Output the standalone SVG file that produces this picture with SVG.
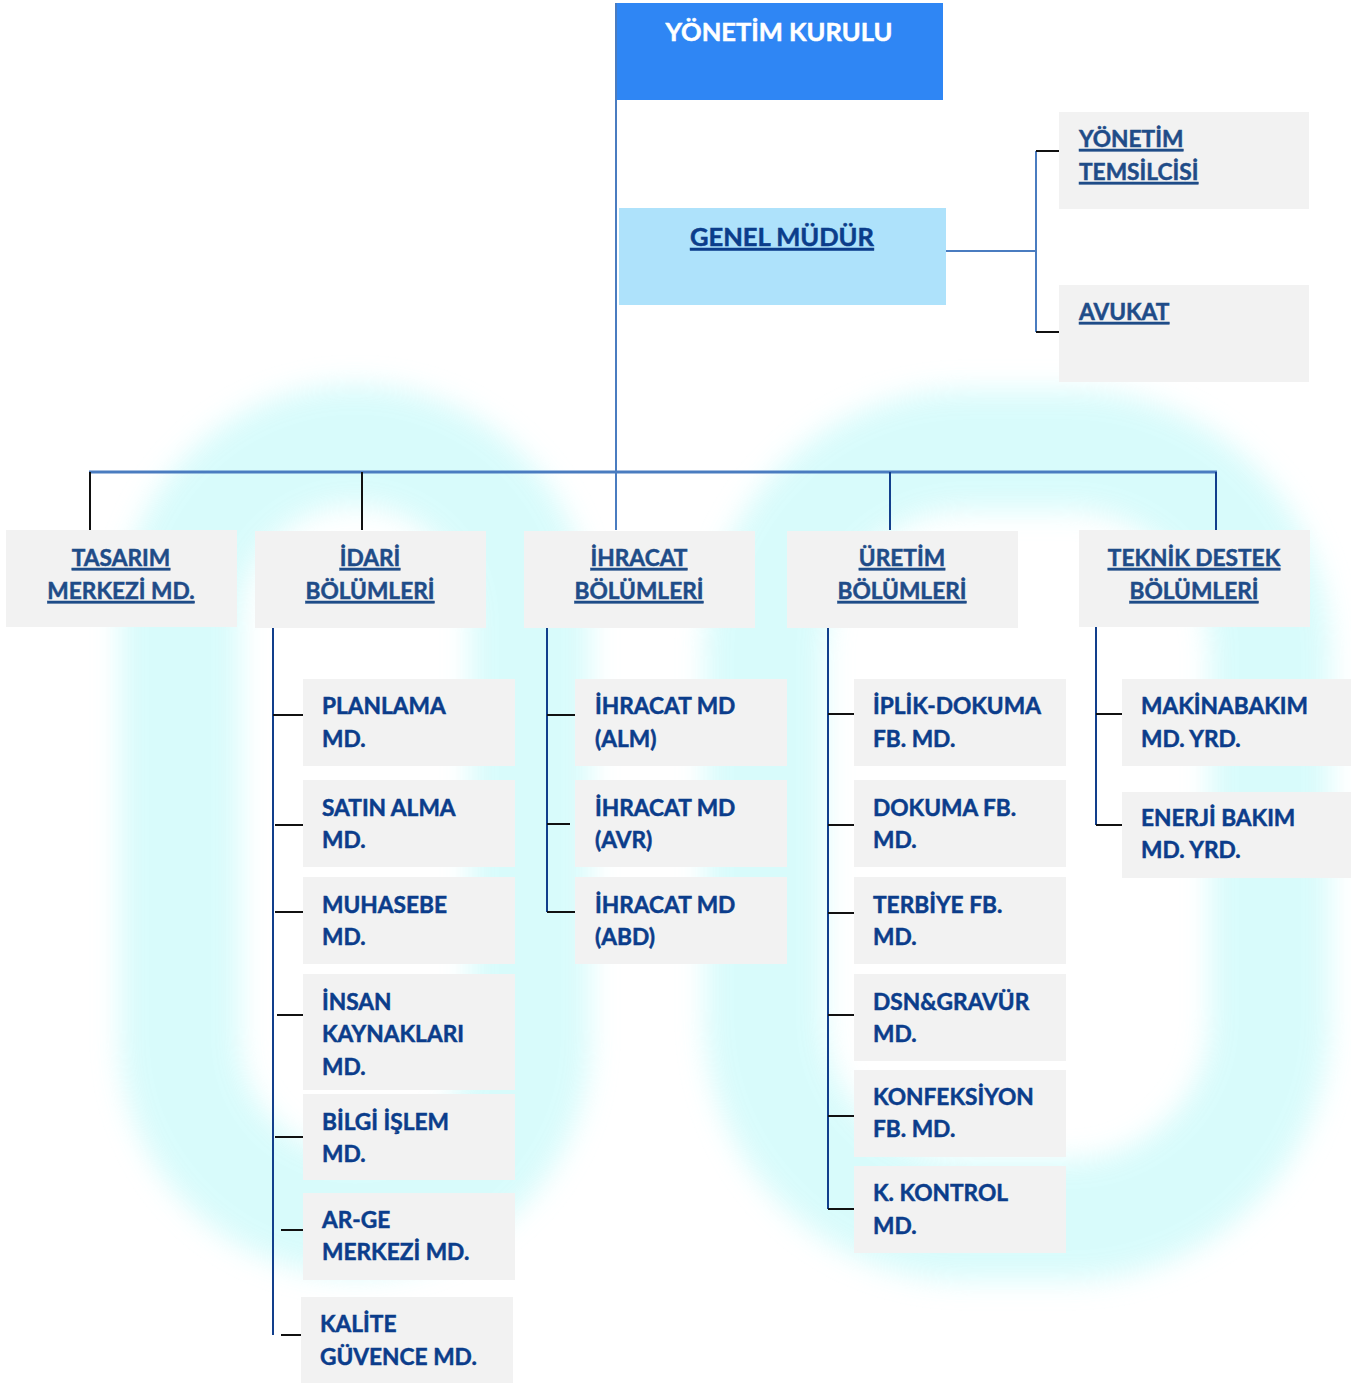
<svg xmlns="http://www.w3.org/2000/svg" width="1351" height="1383" viewBox="0 0 1351 1383">
<style>
.box{fill:#f2f2f2}
.t{font-family:Lato,"Open Sans","Liberation Sans",sans-serif;font-weight:bold;font-size:22.7px;stroke-width:0.5px}
.big{font-size:25.5px}
.l2{fill:#1f4c88;stroke:#1f4c88;text-decoration:underline}
.lf{fill:#0b3d8b;stroke:#0b3d8b}
.wh{fill:#fff;stroke:#fff}
.blue{stroke:#4a7cc0;stroke-width:2;fill:none}
.dark{stroke:#123f8c;stroke-width:2;fill:none}
.blk{stroke:#111;stroke-width:2;fill:none}
</style>
<defs>
<filter id="blur" x="-20%" y="-20%" width="140%" height="140%"><feGaussianBlur stdDeviation="14"/></filter>
</defs>
<rect width="1351" height="1383" fill="#fff"/>
<g id="watermark" filter="url(#blur)" opacity="0.85">
<rect x="180" y="445" width="350" height="770" rx="175" fill="none" stroke="#d2fbfb" stroke-width="120"/>
<rect x="765" y="450" width="505" height="770" rx="200" fill="none" stroke="#d2fbfb" stroke-width="120"/>
</g>
<g id="connectors">
<line class="blue" x1="616" y1="3" x2="616" y2="530"/>
<line class="blue" x1="946" y1="251" x2="1036" y2="251"/>
<line class="blue" x1="1036" y1="151" x2="1036" y2="332"/>
<line class="blk" x1="1036" y1="151" x2="1059" y2="151"/>
<line class="blk" x1="1036" y1="332" x2="1059" y2="332"/>
<line stroke="#4a7cc0" stroke-width="3" x1="89" y1="472" x2="1217" y2="472"/>
<line class="blk" x1="90" y1="472" x2="90" y2="530"/>
<line class="blk" x1="362" y1="472" x2="362" y2="530"/>
<line class="dark" x1="890" y1="472" x2="890" y2="530"/>
<line class="dark" x1="1216" y1="472" x2="1216" y2="530"/>
<line class="dark" x1="273" y1="627" x2="273" y2="1335"/>
<line class="blk" x1="273" y1="715" x2="303" y2="715"/>
<line class="blk" x1="275" y1="825" x2="303" y2="825"/>
<line class="blk" x1="275" y1="912" x2="303" y2="912"/>
<line class="blk" x1="277" y1="1015" x2="306" y2="1015"/>
<line class="blk" x1="275" y1="1137" x2="303" y2="1137"/>
<line class="blk" x1="281" y1="1230" x2="309" y2="1230"/>
<line class="blk" x1="281" y1="1335" x2="306" y2="1335"/>
<line class="dark" x1="547" y1="627" x2="547" y2="912"/>
<line class="blk" x1="547" y1="715" x2="575" y2="715"/>
<line class="blk" x1="547" y1="824" x2="570" y2="824"/>
<line class="blk" x1="547" y1="912" x2="575" y2="912"/>
<line class="dark" x1="828" y1="627" x2="828" y2="1209"/>
<line class="blk" x1="828" y1="714" x2="854" y2="714"/>
<line class="blk" x1="828" y1="825" x2="854" y2="825"/>
<line class="blk" x1="828" y1="913" x2="854" y2="913"/>
<line class="blk" x1="828" y1="1015" x2="854" y2="1015"/>
<line class="blk" x1="828" y1="1116" x2="854" y2="1116"/>
<line class="blk" x1="828" y1="1209" x2="854" y2="1209"/>
<line class="dark" x1="1096" y1="627" x2="1096" y2="825"/>
<line class="blk" x1="1096" y1="714" x2="1122" y2="714"/>
<line class="blk" x1="1096" y1="825" x2="1122" y2="825"/>
</g>
<g id="yonetim-kurulu"><rect x="617" y="3" width="326" height="97" fill="#2f86f4"/><text class="t big wh" x="779" y="41" text-anchor="middle">YÖNETİM KURULU</text></g>
<g id="genel-mudur"><rect x="619" y="208" width="327" height="97" fill="#aee2fb"/><text class="t big l2" x="782" y="246" text-anchor="middle" style="fill:#0b3d8b;stroke:#0b3d8b">GENEL MÜDÜR</text></g>
<g id="yonetim-temsilcisi"><rect class="box" x="1059" y="112" width="250" height="97"/><text class="t l2" x="1079" y="147">YÖNETİM</text><text class="t l2" x="1079" y="180">TEMSİLCİSİ</text></g>
<g id="avukat"><rect class="box" x="1059" y="285" width="250" height="97"/><text class="t l2" x="1079" y="320">AVUKAT</text></g>
<g id="tasarim"><rect class="box" x="6" y="530" width="231" height="97"/><text class="t l2" x="121" y="566" text-anchor="middle">TASARIM</text><text class="t l2" x="121" y="599" text-anchor="middle">MERKEZİ MD.</text></g>
<g id="idari"><rect class="box" x="255" y="531" width="231" height="97"/><text class="t l2" x="370" y="566" text-anchor="middle">İDARİ</text><text class="t l2" x="370" y="599" text-anchor="middle">BÖLÜMLERİ</text></g>
<g id="ihracat"><rect class="box" x="524" y="531" width="231" height="97"/><text class="t l2" x="639" y="566" text-anchor="middle">İHRACAT</text><text class="t l2" x="639" y="599" text-anchor="middle">BÖLÜMLERİ</text></g>
<g id="uretim"><rect class="box" x="787" y="531" width="231" height="97"/><text class="t l2" x="902" y="566" text-anchor="middle">ÜRETİM</text><text class="t l2" x="902" y="599" text-anchor="middle">BÖLÜMLERİ</text></g>
<g id="teknik"><rect class="box" x="1079" y="530" width="231" height="97"/><text class="t l2" x="1194" y="566" text-anchor="middle">TEKNİK DESTEK</text><text class="t l2" x="1194" y="599" text-anchor="middle">BÖLÜMLERİ</text></g>
<g id="planlama"><rect class="box" x="303" y="679" width="212" height="87"/><text class="t lf" x="322" y="714">PLANLAMA</text><text class="t lf" x="322" y="747">MD.</text></g>
<g id="satin-alma"><rect class="box" x="303" y="780" width="212" height="87"/><text class="t lf" x="322" y="816">SATIN ALMA</text><text class="t lf" x="322" y="848">MD.</text></g>
<g id="muhasebe"><rect class="box" x="303" y="877" width="212" height="87"/><text class="t lf" x="322" y="913">MUHASEBE</text><text class="t lf" x="322" y="945">MD.</text></g>
<g id="insan-kaynaklari"><rect class="box" x="303" y="974" width="212" height="116"/><text class="t lf" x="322" y="1010">İNSAN</text><text class="t lf" x="322" y="1042">KAYNAKLARI</text><text class="t lf" x="322" y="1075">MD.</text></g>
<g id="bilgi-islem"><rect class="box" x="303" y="1094" width="212" height="86"/><text class="t lf" x="322" y="1130">BİLGİ İŞLEM</text><text class="t lf" x="322" y="1162">MD.</text></g>
<g id="ar-ge"><rect class="box" x="303" y="1193" width="212" height="87"/><text class="t lf" x="322" y="1228">AR-GE</text><text class="t lf" x="322" y="1260">MERKEZİ MD.</text></g>
<g id="kalite"><rect class="box" x="301" y="1297" width="212" height="86"/><text class="t lf" x="320" y="1332">KALİTE</text><text class="t lf" x="320" y="1365">GÜVENCE MD.</text></g>
<g id="ihracat-alm"><rect class="box" x="575" y="679" width="212" height="87"/><text class="t lf" x="595" y="714">İHRACAT MD</text><text class="t lf" x="595" y="747">(ALM)</text></g>
<g id="ihracat-avr"><rect class="box" x="575" y="780" width="212" height="87"/><text class="t lf" x="595" y="816">İHRACAT MD</text><text class="t lf" x="595" y="848">(AVR)</text></g>
<g id="ihracat-abd"><rect class="box" x="575" y="877" width="212" height="87"/><text class="t lf" x="595" y="913">İHRACAT MD</text><text class="t lf" x="595" y="945">(ABD)</text></g>
<g id="iplik-dokuma"><rect class="box" x="854" y="679" width="212" height="87"/><text class="t lf" x="873" y="714">İPLİK-DOKUMA</text><text class="t lf" x="873" y="747">FB. MD.</text></g>
<g id="dokuma"><rect class="box" x="854" y="780" width="212" height="87"/><text class="t lf" x="873" y="816">DOKUMA FB.</text><text class="t lf" x="873" y="848">MD.</text></g>
<g id="terbiye"><rect class="box" x="854" y="877" width="212" height="87"/><text class="t lf" x="873" y="913">TERBİYE FB.</text><text class="t lf" x="873" y="945">MD.</text></g>
<g id="dsn-gravur"><rect class="box" x="854" y="974" width="212" height="87"/><text class="t lf" x="873" y="1010">DSN&amp;GRAVÜR</text><text class="t lf" x="873" y="1042">MD.</text></g>
<g id="konfeksiyon"><rect class="box" x="854" y="1070" width="212" height="87"/><text class="t lf" x="873" y="1105">KONFEKSİYON</text><text class="t lf" x="873" y="1137">FB. MD.</text></g>
<g id="k-kontrol"><rect class="box" x="854" y="1166" width="212" height="87"/><text class="t lf" x="873" y="1201">K. KONTROL</text><text class="t lf" x="873" y="1234">MD.</text></g>
<g id="makinabakim"><rect class="box" x="1122" y="679" width="229" height="87"/><text class="t lf" x="1141" y="714">MAKİNABAKIM</text><text class="t lf" x="1141" y="747">MD. YRD.</text></g>
<g id="enerji-bakim"><rect class="box" x="1122" y="792" width="229" height="86"/><text class="t lf" x="1141" y="826">ENERJİ BAKIM</text><text class="t lf" x="1141" y="858">MD. YRD.</text></g>
</svg>
